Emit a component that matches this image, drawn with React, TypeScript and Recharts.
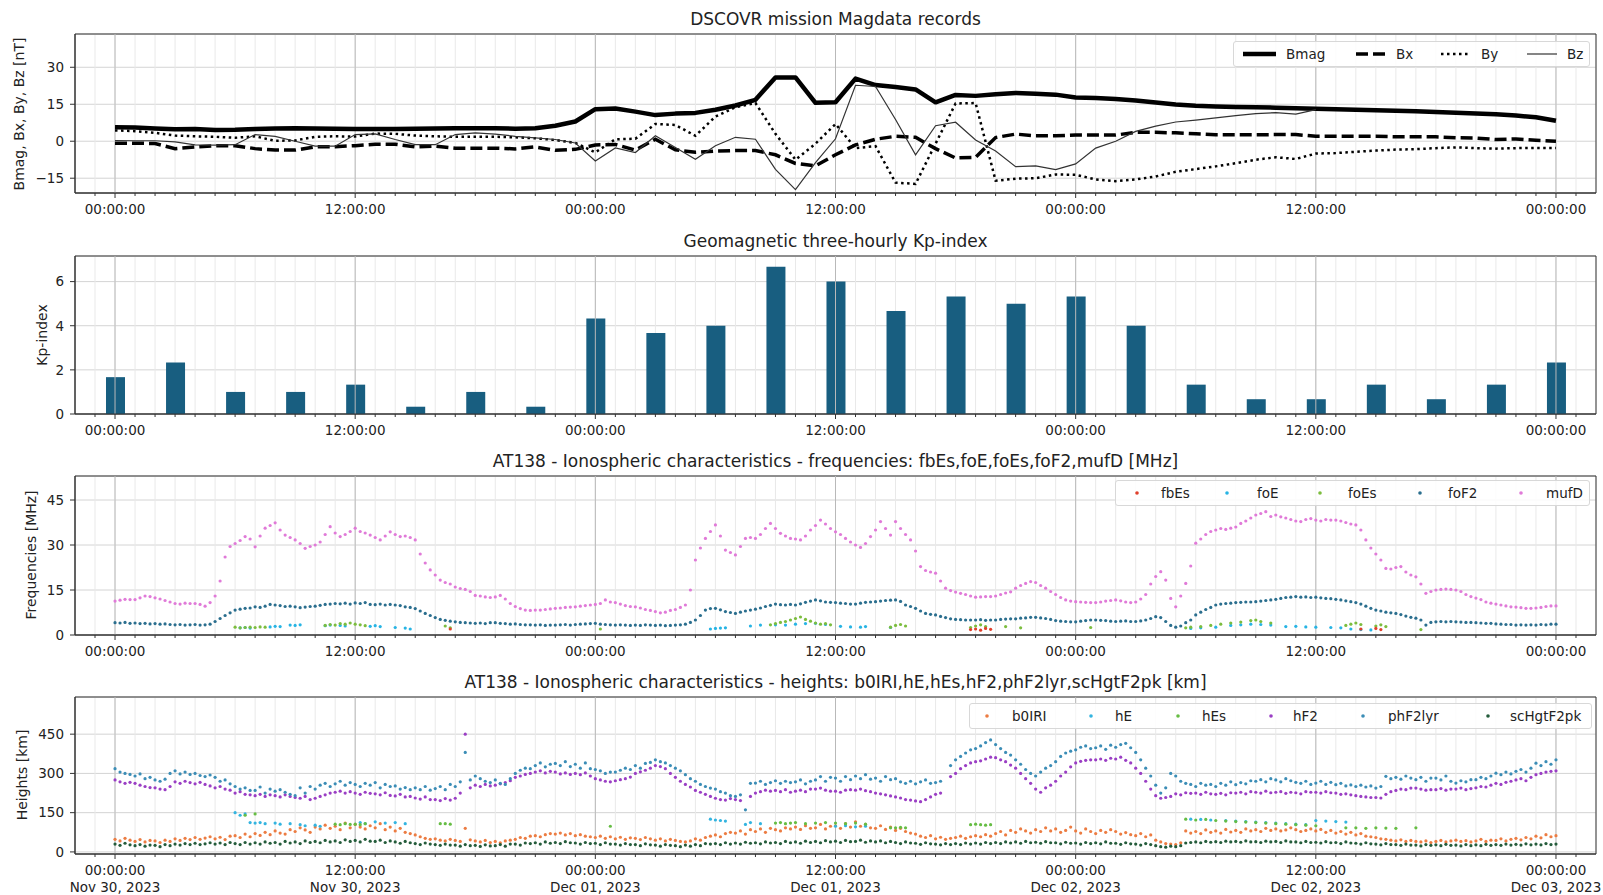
import React from "react";
import {
  LineChart, Line, ScatterChart, Scatter, ComposedChart, Bar,
  XAxis, YAxis, CartesianGrid, ReferenceLine, ReferenceArea,
} from "recharts";

const FONT = '"DejaVu Sans", Verdana, sans-serif';
const STEP = 0.25; // hours between ionosonde samples

// ---- tick labels ----
const TIME_LABELS = ["00:00:00", "12:00:00"];
const DATE_LABELS = ["Nov 30, 2023", "Nov 30, 2023", "Dec 01, 2023", "Dec 01, 2023", "Dec 02, 2023", "Dec 02, 2023", "Dec 03, 2023"];
const MAJOR_HOURS = [0, 12, 24, 36, 48, 60, 72];

// ---- DSCOVR hourly magnetometer (nT), Nov 30 00:00 .. Dec 03 00:00 ----
const BMAG = [5.7,5.6,5.2,4.9,5.0,4.6,4.7,5.0,5.2,5.3,5.2,5.1,5.0,5.0,5.0,5.1,5.2,5.3,5.3,5.3,5.1,5.3,6.3,8.0,
  13.0,13.3,12.0,10.6,11.2,11.5,12.8,14.5,16.8,25.9,25.9,15.6,15.8,25.4,22.8,22.0,21.0,15.8,18.8,18.4,19.1,19.6,19.3,18.9,
  17.7,17.5,17.1,16.5,15.7,14.9,14.4,14.1,13.9,13.8,13.6,13.4,13.2,13.0,12.8,12.6,12.4,12.2,11.9,11.6,11.3,10.9,10.4,9.7,8.3];
const BX = [-0.8,-0.8,-0.9,-3.0,-2.3,-1.8,-1.8,-3.0,-3.6,-3.6,-2.3,-2.2,-1.8,-1.2,-1.2,-2.3,-2.0,-2.8,-2.8,-2.8,-3.1,-2.3,-3.7,-3.3,
  -1.5,-1.3,-3.6,0.8,-3.5,-4.5,-4.0,-3.8,-3.8,-5.5,-9.0,-10.0,-5.5,-1.5,0.8,2.0,1.6,-3.0,-6.8,-6.5,1.5,2.9,2.2,2.2,
  2.5,2.5,2.5,3.6,3.6,3.4,3.0,2.6,2.6,2.6,2.7,2.7,2.0,2.0,2.0,2.0,1.8,1.8,1.8,1.4,1.3,0.7,0.9,0.4,0.0];
const BY = [4.4,4.1,3.4,2.3,2.0,1.8,1.4,2.0,0.2,0.3,1.8,2.0,1.9,3.1,3.0,2.3,2.0,1.8,1.8,1.8,1.6,1.2,0.5,-0.7,
  -4.5,0.8,1.0,7.0,6.6,2.2,10.0,13.8,15.5,3.0,-7.5,-1.0,7.0,-2.8,-2.0,-16.8,-17.3,-1.0,15.3,15.5,-16.0,-15.2,-15.0,-13.5,
  -13.6,-15.5,-16.2,-15.5,-14.3,-12.4,-11.3,-10.2,-8.9,-7.5,-6.5,-7.2,-5.0,-4.8,-4.3,-3.8,-3.4,-3.2,-2.8,-2.5,-2.8,-3.0,-2.8,-2.7,-2.7];
const BZ = [0.3,0.2,0.2,-0.3,-1.5,-1.6,-1.4,2.7,2.0,0.0,-2.0,-2.0,2.7,3.0,0.7,-1.4,-1.4,2.7,3.4,2.9,2.0,1.4,0.7,-0.7,
  -8.0,-2.7,-4.6,2.2,-2.5,-7.3,-1.8,1.6,0.8,-11.4,-19.6,-8.7,1.0,22.7,22.2,8.8,-5.5,6.3,7.7,0.5,-4.0,-10.3,-10.0,-11.5,
  -9.2,-2.8,0.0,4.0,6.1,7.8,8.6,9.5,10.4,11.2,11.6,11.0,12.8,null,null,null,null,null,null,null,null,null,null,null,null];

// ---- Kp index every 3 hours ----
const KP_HOURS = [0,3,6,9,12,15,18,21,24,27,30,33,36,39,42,45,48,51,54,57,60,63,66,69,72];
const KP = [1.67,2.33,1.0,1.0,1.33,0.33,1.0,0.33,4.33,3.67,4.0,6.67,6.0,4.67,5.33,5.0,5.33,4.0,1.33,0.67,0.67,1.33,0.67,1.33,2.33];

// ---- AT138 frequencies (MHz), 15-min samples from Nov 30 00:00 ----
const MUFD = [
  11.3,11.6,11.9,11.8,11.8,12.4,13.0,12.8,12.4,12.0,11.5,11.0,10.5,10.3,10.6,10.5,
  10.5,10.2,9.6,10.8,13.0,18.0,26.0,29.5,30.5,31.5,32.8,32.0,29.4,33.0,35.6,36.5,
  37.4,35.0,33.3,32.5,31.7,30.5,28.9,29.5,30.0,31.0,33.5,36.1,34.0,32.8,33.5,34.5,
  35.6,34.5,34.0,33.3,32.5,31.7,33.0,34.4,33.5,32.8,33.0,32.5,31.7,27.0,24.0,21.7,
  20.0,18.3,17.5,17.0,16.0,15.5,15.2,14.5,13.2,13.0,12.7,12.5,12.7,13.2,12.0,10.5,
  9.5,8.8,8.3,8.2,8.3,8.3,8.5,8.7,8.9,9.0,9.2,9.3,9.4,9.6,9.8,10.0,
  10.2,10.5,11.7,11.0,10.8,10.3,9.8,9.5,9.4,9.0,8.5,8.2,7.8,7.4,7.6,8.2,
  8.5,9.2,10.0,15.0,25.0,29.0,32.2,34.5,36.7,33.0,28.3,27.5,26.7,29.5,32.2,32.5,
  32.2,33.5,35.5,37.2,35.5,33.9,33.0,32.2,32.0,31.7,33.0,35.0,36.5,38.3,37.0,35.5,
  34.4,33.5,32.2,31.0,30.0,29.2,30.5,32.8,35.0,37.8,35.5,33.3,37.8,35.5,33.5,31.7,
  28.0,22.8,21.5,21.0,20.6,18.0,15.6,14.8,14.3,13.9,13.5,13.0,12.6,12.7,12.8,12.8,
  13.0,13.5,14.0,14.4,15.6,16.5,17.2,17.8,17.5,16.5,15.6,14.5,13.5,12.5,11.7,11.3,
  11.1,11.0,10.9,10.8,10.8,11.0,11.3,11.5,11.7,11.4,11.0,10.8,11.0,12.0,13.5,17.0,
  19.5,21.1,18.3,12.2,9.4,13.0,17.2,23.0,30.6,32.0,33.5,34.5,35.0,35.5,35.2,35.6,
  36.0,37.2,38.0,39.0,40.0,40.5,41.1,39.5,40.0,39.4,39.0,38.5,38.0,37.8,38.5,38.8,
  38.3,38.0,38.5,38.3,38.3,38.0,37.5,37.0,36.7,35.0,31.7,29.0,27.0,25.0,22.2,22.0,
  22.5,22.8,21.0,20.0,19.4,17.0,13.9,14.5,15.0,15.2,15.3,15.2,15.0,14.5,13.5,12.8,
  12.3,11.8,11.0,10.6,10.3,10.0,9.7,9.4,9.3,9.1,8.9,8.9,9.0,9.2,9.5,9.7,
  9.7];
const FOF2 = [
  4.1,4.0,4.2,3.9,4.0,3.8,3.9,3.7,3.8,3.6,3.7,3.5,3.4,3.5,3.3,3.4,
  3.5,3.3,3.4,3.6,4.5,5.5,6.5,7.4,8.3,8.6,8.9,9.0,9.4,9.2,9.6,10.2,
  10.0,9.8,9.5,9.6,9.4,9.1,9.3,9.5,9.6,9.9,10.2,10.3,10.5,10.4,10.6,10.3,
  10.7,10.5,10.8,10.2,10.1,10.3,10.0,10.2,10.0,9.8,9.4,9.2,8.8,8.0,7.2,6.5,
  5.8,5.2,4.9,4.6,4.4,4.2,4.1,4.0,3.9,4.0,3.8,4.1,4.1,3.9,3.8,3.6,
  3.7,3.5,3.4,3.4,3.3,3.4,3.2,3.3,3.3,3.4,3.5,3.3,3.5,3.6,3.7,3.8,
  3.9,3.6,3.5,3.4,3.3,3.4,3.3,3.2,3.3,3.2,3.4,3.3,3.2,3.3,3.1,3.2,
  3.3,3.4,3.6,4.2,5.0,6.5,8.3,8.8,8.9,8.4,7.8,7.5,7.2,7.6,8.0,8.3,
  8.6,9.0,9.5,9.9,10.3,10.1,10.0,10.2,10.0,10.4,10.9,11.3,11.7,11.4,11.0,10.9,
  10.8,10.6,10.5,10.3,10.3,10.6,10.9,11.0,11.1,11.3,11.5,11.6,11.7,11.2,10.0,9.5,
  8.9,8.0,7.2,6.9,6.7,6.2,5.8,5.4,5.2,5.1,5.0,5.0,5.0,5.1,4.9,5.0,
  5.0,5.2,5.3,5.4,5.4,5.6,5.7,5.9,5.9,5.7,5.5,5.2,4.8,4.6,4.5,4.4,
  4.4,4.6,4.8,5.0,5.0,4.9,4.8,4.6,4.5,4.6,4.7,4.5,4.5,4.7,5.0,5.5,
  6.1,5.8,4.5,3.2,2.6,3.0,4.1,5.0,6.7,7.6,8.5,9.2,10.0,10.3,10.5,10.6,
  10.8,10.9,11.0,11.0,11.1,11.3,11.5,11.7,11.9,12.2,12.5,12.6,12.8,12.6,12.7,12.5,
  12.6,12.4,12.2,12.1,11.9,11.7,11.4,11.1,10.8,10.3,9.6,8.9,8.3,8.0,7.6,7.4,
  7.2,6.8,6.3,5.9,5.6,5.0,3.3,4.2,4.4,4.5,4.4,4.5,4.4,4.3,4.2,4.2,
  4.1,4.0,3.9,3.9,3.7,3.6,3.5,3.5,3.3,3.4,3.3,3.4,3.3,3.5,3.4,3.6,
  3.6];
// sparse E-region frequencies: [hour, MHz]
const FOE = [[6.25,2.4],[6.5,2.5],[6.75,2.3],[7.75,2.7],[8.0,2.9],[8.25,2.8],[8.75,3.3],[9.0,3.2],[9.25,3.4],[10.5,3.1],[10.75,3.3],[11.25,3.2],[11.5,3.0],[12.75,2.9],[13.0,3.1],[13.25,2.8],[14.0,2.5],[14.5,2.3],[14.75,2.0],
  [29.75,2.0],[30.0,2.2],[30.25,2.3],[30.5,2.4],[31.75,3.0],[32.25,3.3],[33.0,3.4],[33.5,3.3],[34.0,3.6],[34.5,3.8],[35.0,3.9],[35.5,3.5],[36.25,2.9],[36.75,2.7],[37.25,2.6],[37.5,2.8],[38.75,2.5],
  [53.75,2.2],[54.25,2.4],[55.0,2.6],[55.75,3.2],[56.25,3.4],[56.75,3.6],[57.25,3.5],[57.75,3.3],[58.5,2.8],[59.0,2.9],[59.5,2.7],[60.0,2.6],[60.75,2.5],[61.25,2.4],[61.75,2.0],[62.25,1.8],[62.75,1.7]];
const FOES = [[6.0,2.6],[6.25,2.4],[6.5,2.5],[6.75,2.6],[7.0,2.5],[7.25,2.7],[7.5,2.6],[10.5,3.2],[10.75,3.5],[11.0,3.3],[11.25,3.8],[11.5,3.6],[11.75,4.0],[12.0,3.6],[12.25,3.4],[12.5,3.1],[16.5,3.0],[16.75,2.4],
  [24.25,2.0],[32.75,3.4],[33.0,3.8],[33.25,4.2],[33.5,4.5],[33.75,5.0],[34.0,5.5],[34.25,6.0],[34.5,5.2],[34.75,4.6],[35.0,4.0],[35.25,3.6],[35.5,3.8],[35.75,3.4],[38.75,2.6],[39.0,3.2],[39.25,3.5],[39.5,3.0],[42.75,2.5],[43.0,3.0],[43.25,3.4],[43.5,2.8],[44.5,2.8],[45.25,2.4],
  [48.75,2.5],[53.5,2.4],[53.75,2.6],[54.25,2.8],[54.75,3.2],[55.25,3.6],[55.75,4.0],[56.25,4.3],[56.75,4.8],[57.0,5.0],[57.25,4.5],[57.75,4.0],[61.5,3.2],[61.75,3.6],[62.0,4.0],[62.25,3.5],[63.0,3.0],[63.25,3.4],[63.5,2.8],[65.25,1.8]];
const FBES = [[16.75,2.0],[42.75,1.8],[43.0,2.0],[43.25,1.6],[43.5,2.2],[43.75,1.9],[62.25,2.0],[63.0,2.2],[63.25,1.8]];

// ---- AT138 heights (km), 15-min samples from Nov 30 00:00 ----
const HF2 = [
  275,268,262,266,262,255,250,246,245,240,238,250,268,262,270,265,
  260,266,258,252,245,250,240,236,225,230,220,218,215,220,212,218,
  215,210,218,212,208,205,212,200,205,212,218,225,228,232,225,230,
  225,220,228,224,222,218,226,216,214,220,210,212,206,202,210,200,
  200,196,204,198,205,225,450,245,255,250,258,252,255,260,265,272,
  285,290,296,300,305,310,302,308,305,298,302,296,300,295,302,290,
  280,275,270,268,272,276,280,286,300,306,312,320,330,326,318,300,
  285,270,258,248,235,228,220,212,205,200,198,204,200,196,null,212,
  225,230,236,232,235,230,238,228,232,236,230,240,240,244,236,232,
  232,228,236,238,236,240,234,230,225,222,218,214,210,206,200,198,
  195,192,200,210,220,225,null,288,300,318,330,340,345,348,355,362,
  360,352,345,332,320,300,280,262,240,228,245,255,270,290,305,325,
  340,346,350,352,352,355,350,358,355,362,350,340,320,300,270,240,
  215,205,208,212,222,218,226,224,225,220,228,222,220,224,218,226,
  225,228,222,230,228,225,232,226,228,230,224,228,226,222,230,228,
  228,225,230,226,225,220,222,218,215,212,210,208,208,206,220,230,
  235,240,238,244,244,240,236,238,238,242,236,240,240,244,238,242,
  245,250,248,255,262,258,266,270,275,280,272,285,295,300,305,308,
  310];
const PHF2LYR = [
  318,305,300,296,290,298,280,285,275,270,278,300,310,298,305,296,
  300,292,288,294,285,270,275,260,250,240,245,235,235,248,225,240,
  232,238,228,220,215,245,225,250,240,255,262,250,260,270,255,265,
  258,250,262,255,265,245,258,250,252,240,246,238,245,238,250,236,
  242,250,238,258,250,268,380,275,290,280,270,265,275,262,258,280,
  300,312,320,318,330,340,325,335,338,330,345,326,335,320,340,318,
  315,310,300,305,305,312,320,315,330,320,338,342,352,345,340,330,
  320,310,295,280,270,258,250,244,240,230,225,215,212,218,161,262,
  263,270,258,265,272,262,270,265,268,275,260,270,275,288,270,285,
  282,270,288,276,290,280,295,278,282,270,288,276,280,268,262,270,
  260,268,275,262,265,270,null,330,352,365,378,390,395,405,418,428,
  410,395,380,370,352,335,315,300,290,305,320,330,345,365,378,385,
  390,400,405,395,398,405,392,408,400,410,415,398,380,352,320,290,
  255,225,245,300,290,270,262,258,250,262,255,258,250,262,255,268,
  257,265,260,272,270,276,268,280,275,268,280,272,266,262,270,258,
  263,270,258,266,257,262,252,256,250,255,248,252,244,250,289,280,
  285,278,290,282,276,285,270,282,282,275,290,270,263,272,268,276,
  276,285,280,290,301,295,305,298,308,315,305,320,339,330,345,335,
  352];
const B0IRI = [
  48,42,52,45,40,47,38,44,42,36,45,40,50,44,52,47,
  55,48,53,58,50,56,47,60,62,55,68,58,70,63,75,66,
  80,72,68,85,78,92,84,75,95,88,102,90,98,85,110,92,
  105,95,88,100,92,108,85,95,80,90,75,70,65,58,52,48,
  50,45,42,48,44,40,90,46,42,38,44,36,40,35,42,45,
  48,55,52,60,62,58,66,70,68,72,65,70,62,66,60,58,
  55,60,52,58,50,56,48,54,52,47,55,50,45,50,42,48,
  44,40,38,42,50,45,55,60,65,58,70,75,72,80,68,85,
  78,88,75,90,85,80,92,88,95,86,100,90,92,105,88,98,
  100,90,108,95,115,98,105,92,90,100,86,95,82,90,78,72,
  68,60,55,62,50,56,48,52,55,60,52,58,62,58,66,60,
  70,78,65,82,75,88,80,72,85,78,92,80,88,75,82,95,
  80,72,88,78,70,82,75,85,78,68,74,66,62,70,58,65,
  45,38,32,30,28,35,80,72,78,70,84,75,80,72,86,76,
  82,75,88,80,85,78,90,82,88,80,84,92,85,78,82,88,
  80,86,75,82,72,78,68,75,65,70,60,58,55,50,48,45,
  42,46,40,44,40,38,42,36,40,44,38,42,45,40,43,38,
  42,48,40,45,44,50,42,48,52,46,55,50,60,54,66,58,
  62];
const SCHGTF2PK = [
  30,25,33,27,24,28,22,26,25,20,28,24,30,26,32,28,
  33,28,31,35,30,34,28,36,32,28,36,30,35,30,38,33,
  36,30,40,34,38,32,42,36,40,35,44,38,42,36,46,40,
  44,38,48,41,40,45,36,42,38,33,40,35,32,28,34,30,
  28,25,30,26,26,22,28,24,25,21,27,23,24,28,22,30,
  30,26,34,32,35,30,38,33,36,32,39,35,34,30,36,32,
  33,28,35,30,30,26,32,28,28,24,31,27,26,22,28,25,
  24,20,26,22,28,24,32,30,32,28,35,30,34,30,37,33,
  35,31,38,34,36,32,40,35,38,33,41,36,40,35,43,38,
  41,36,44,39,40,45,37,42,38,42,35,40,36,32,38,34,
  33,29,35,31,30,27,32,28,32,28,34,30,34,30,36,32,
  36,32,38,34,38,33,40,35,37,33,39,35,35,31,37,33,
  34,30,36,32,35,31,38,33,33,29,35,31,30,26,32,28,
  24,20,18,22,20,24,34,36,38,35,40,37,39,36,41,38,
  40,37,42,38,39,36,41,38,40,36,42,38,38,35,40,36,
  37,34,39,35,36,32,38,34,33,30,35,31,30,27,32,28,
  28,25,30,26,26,23,28,25,27,24,29,25,26,23,28,24,
  27,24,29,25,28,25,30,26,29,26,31,27,30,27,32,28,
  30];
// sparse E-region heights: [hour, km]
const HE = [[6.0,150],[6.25,140],[6.5,145],[6.75,112],[7.0,110],[7.25,112],[7.5,108],[8.0,110],[8.25,106],[8.75,108],[9.25,104],[9.5,100],[10.0,102],[10.25,98],[12.25,112],[12.5,108],[13.0,115],[13.5,110],[14.0,112],[14.5,108],
  [29.75,125],[30.0,122],[30.25,120],[30.5,118],[31.5,105],[31.75,112],[32.25,108],[36.0,98],[36.5,100],[37.0,96],[37.5,98],
  [53.75,125],[54.25,124],[54.75,122],[55.5,120],[56.0,118],[56.5,116],[57.0,114],[57.5,112],[58.0,110],[58.5,108],[59.0,106],[59.5,104],[60.0,120],[60.5,118],[61.0,116],[61.5,114]];
const HES = [[6.5,140],[7.0,145],[11.0,106],[11.25,104],[11.5,108],[11.75,105],[12.0,106],[12.25,104],[12.5,108],[16.25,108],[16.5,108],[16.75,106],
  [24.75,98],[33.0,110],[33.25,112],[33.5,108],[33.75,110],[34.0,112],[34.5,108],[35.0,110],[35.5,112],[36.0,110],[36.5,108],[37.0,110],[37.5,106],[38.75,92],[39.0,92],[39.25,94],[39.5,92],[42.75,104],[43.0,106],[43.25,104],[43.5,102],[43.75,104],
  [53.5,125],[54.0,122],[54.5,124],[55.0,120],[55.5,118],[56.0,116],[56.5,114],[57.0,112],[57.5,110],[58.0,108],[58.5,106],[59.0,104],[59.5,102],[60.0,100],[61.5,92],[62.0,92],[62.5,90],[63.0,92],[63.5,91],[64.0,90],[65.0,92]];

// ---- helpers ----
const toPoints = (vals: (number | null)[]) =>
  vals.flatMap((v, i) => (v == null ? [] : [{ t: i * STEP, v }]));
const pairPoints = (pairs: number[][]) => pairs.map(([t, v]) => ({ t, v }));

const magData = BMAG.map((b, i) => ({ t: i, bmag: b, bx: BX[i], by: BY[i], bz: BZ[i] }));
const kpData = KP_HOURS.map((t, i) => ({ t, kp: KP[i] }));

const HOUR_TICKS: number[] = [];
for (let h = -1; h <= 73; h++) HOUR_TICKS.push(h);
const X_DOMAIN: [number, number] = [-2, 74];

const C = {
  fbEs: "#e0402c", foE: "#27b4e4", foEs: "#7cbd3e", foF2: "#2a6e8e", mufD: "#e07ad8",
  b0IRI: "#ec7c42", hE: "#33b4e0", hEs: "#66bd44", hF2: "#9a3ec4", phF2lyr: "#3b8db6", scHgtF2pk: "#245c3b",
};

const TimeTick = (props: any) => {
  const { x, y, payload, withDate } = props;
  const h = payload.value;
  const major = h % 12 === 0 && h >= 0 && h <= 72;
  return (
    <g>
      <line x1={x} x2={x} y1={y} y2={y + (major ? 5 : 3)} stroke="#333" strokeWidth={1} />
      {major && (
        <text x={x} y={y + 21} textAnchor="middle" fontSize={13.5} fill="#222" fontFamily={FONT}>
          {TIME_LABELS[(h / 12) % 2]}
        </text>
      )}
      {major && withDate && (
        <text x={x} y={y + 38} textAnchor="middle" fontSize={13.5} fill="#222" fontFamily={FONT}>
          {DATE_LABELS[h / 12]}
        </text>
      )}
    </g>
  );
};

const minus = (v: number) => String(v).replace("-", "\u2212");
const dot = (color: string, r = 1.6) => (p: any) => <circle cx={p.cx} cy={p.cy} r={r} fill={color} />;

const xAxisEl = (height: number, withDate = false) => (
  <XAxis type="number" dataKey="t" domain={X_DOMAIN} allowDataOverflow ticks={HOUR_TICKS} interval={0}
    height={height} tickSize={0} tickMargin={0} tickLine={false} axisLine={{ stroke: "#333" }}
    tick={(p: any) => <TimeTick {...p} withDate={withDate} />} />
);
const yAxisEl = (domain: [number, number], ticks: number[], dataKey?: string) => (
  <YAxis type="number" dataKey={dataKey} domain={domain} allowDataOverflow ticks={ticks} interval={0} width={75}
    stroke="#333" tickSize={5} tickMargin={6} tickFormatter={minus}
    tick={{ fontSize: 13.5, fill: "#222", fontFamily: FONT }} />
);
const gridEls = () => [
  <CartesianGrid key="gh" vertical={false} stroke="#d4d4d4" />,
  <CartesianGrid key="gv" horizontal={false} stroke="#e9e9e9" />,
];
const majorLines = () => MAJOR_HOURS.map((h) => <ReferenceLine key={"m" + h} x={h} stroke="#b9b9b9" />);
const frame = (d: [number, number]) => (
  <ReferenceArea x1={X_DOMAIN[0]} x2={X_DOMAIN[1]} y1={d[0]} y2={d[1]} fill="none" fillOpacity={0} stroke="#333" strokeWidth={1} />
);

const W = 1603;
const MARGIN = { top: 10, right: 7, bottom: 0, left: 0 };

const Title = ({ top, text }: { top: number; text: string }) => (
  <div style={{ position: "absolute", left: 75, width: 1521, top: top - 25, height: 20, lineHeight: "20px",
    textAlign: "center", fontSize: 17, color: "#222" }}>{text}</div>
);
const YLabel = ({ x, y, text }: { x: number; y: number; text: string }) => (
  <div style={{ position: "absolute", left: x, top: y, transform: "translate(-50%,-50%) rotate(-90deg)",
    whiteSpace: "nowrap", fontSize: 14, color: "#222" }}>{text}</div>
);

type LegendEntry = { name: string; color: string; markX: number; textX: number; line?: { w: number; width: number; dash?: string } };
const LegendBox = ({ left, top, width, entries }: { left: number; top: number; width: number; entries: LegendEntry[] }) => (
  <div style={{ position: "absolute", left, top, width, height: 26, background: "rgba(255,255,255,0.85)",
    border: "1px solid #d8d8d8", borderRadius: 3, boxSizing: "border-box" }}>
    <svg width={width} height={26} style={{ position: "absolute", left: -1, top: -1 }}>
      {entries.map((e) =>
        e.line ? (
          <line key={e.name} x1={e.markX - left} x2={e.markX - left + e.line.w} y1={13} y2={13}
            stroke={e.color} strokeWidth={e.line.width} strokeDasharray={e.line.dash} />
        ) : (
          <circle key={e.name} cx={e.markX - left} cy={13} r={1.8} fill={e.color} />
        )
      )}
      {entries.map((e) => (
        <text key={"t" + e.name} x={e.textX - left} y={17.5} fontSize={13.5} fill="#222" fontFamily={FONT}>{e.name}</text>
      ))}
    </svg>
  </div>
);

const MAG_LEGEND: LegendEntry[] = [
  { name: "Bmag", color: "#000", markX: 1243, textX: 1286, line: { w: 33, width: 4.5 } },
  { name: "Bx", color: "#000", markX: 1356, textX: 1396, line: { w: 29, width: 3.5, dash: "12 5" } },
  { name: "By", color: "#000", markX: 1441, textX: 1481, line: { w: 27, width: 2.5, dash: "2.5 3.5" } },
  { name: "Bz", color: "#333", markX: 1527, textX: 1567, line: { w: 30, width: 1.2 } },
];
const FREQ_LEGEND: LegendEntry[] = [
  { name: "fbEs", color: C.fbEs, markX: 1137, textX: 1161 },
  { name: "foE", color: C.foE, markX: 1227, textX: 1257 },
  { name: "foEs", color: C.foEs, markX: 1320, textX: 1348 },
  { name: "foF2", color: C.foF2, markX: 1420, textX: 1448 },
  { name: "mufD", color: C.mufD, markX: 1521, textX: 1546 },
];
const HEIGHT_LEGEND: LegendEntry[] = [
  { name: "b0IRI", color: C.b0IRI, markX: 987, textX: 1012 },
  { name: "hE", color: C.hE, markX: 1091, textX: 1115 },
  { name: "hEs", color: C.hEs, markX: 1178, textX: 1202 },
  { name: "hF2", color: C.hF2, markX: 1271, textX: 1293 },
  { name: "phF2lyr", color: C.phF2lyr, markX: 1363, textX: 1388 },
  { name: "scHgtF2pk", color: C.scHgtF2pk, markX: 1488, textX: 1510 },
];

export default function App() {
  const P1: [number, number] = [-21, 43.5];
  const P2: [number, number] = [0, 7.16];
  const P3: [number, number] = [0, 53];
  const P4: [number, number] = [-8, 592];

  return (
    <div style={{ position: "absolute", left: 0, top: 0, width: W, height: 895, background: "#fff",
      overflow: "hidden", fontFamily: FONT }}>
      {/* panel 1: magnetometer */}
      <Title top={34} text="DSCOVR mission Magdata records" />
      <YLabel x={19} y={114} text="Bmag, Bx, By, Bz [nT]" />
      <div style={{ position: "absolute", left: 0, top: 24 }}>
        <LineChart width={W} height={10 + 159 + 40} data={magData} margin={MARGIN}>
          {gridEls()}
          {majorLines()}
          {xAxisEl(40)}
          {yAxisEl(P1, [-15, 0, 15, 30])}
          <Line dataKey="bmag" stroke="#000" strokeWidth={4.5} dot={false} strokeLinejoin="round" isAnimationActive={false} />
          <Line dataKey="bx" stroke="#000" strokeWidth={3.5} strokeDasharray="12 5" dot={false} isAnimationActive={false} />
          <Line dataKey="by" stroke="#000" strokeWidth={2.5} strokeDasharray="2.5 3.5" dot={false} isAnimationActive={false} />
          <Line dataKey="bz" stroke="#333" strokeWidth={1.2} dot={false} isAnimationActive={false} />
          {frame(P1)}
        </LineChart>
      </div>
      <LegendBox left={1233} top={41} width={357} entries={MAG_LEGEND} />

      {/* panel 2: Kp */}
      <Title top={256} text="Geomagnetic three-hourly Kp-index" />
      <YLabel x={42} y={335} text="Kp-index" />
      <div style={{ position: "absolute", left: 0, top: 246 }}>
        <ComposedChart width={W} height={10 + 158 + 40} data={kpData} margin={MARGIN}>
          {gridEls()}
          {majorLines()}
          {xAxisEl(40)}
          {yAxisEl(P2, [0, 2, 4, 6])}
          <Bar dataKey="kp" fill="#185e80" barSize={19} isAnimationActive={false} />
          {frame(P2)}
        </ComposedChart>
      </div>

      {/* panel 3: frequencies */}
      <Title top={476} text="AT138 - Ionospheric characteristics - frequencies: fbEs,foE,foEs,foF2,mufD [MHz]" />
      <YLabel x={31} y={555} text="Frequencies [MHz]" />
      <div style={{ position: "absolute", left: 0, top: 466 }}>
        <ScatterChart width={W} height={10 + 159 + 40} margin={MARGIN}>
          {gridEls()}
          {majorLines()}
          {xAxisEl(40)}
          {yAxisEl(P3, [0, 15, 30, 45], "v")}
          <Scatter data={toPoints(MUFD)} fill={C.mufD} shape={dot(C.mufD)} isAnimationActive={false} />
          <Scatter data={toPoints(FOF2)} fill={C.foF2} shape={dot(C.foF2)} isAnimationActive={false} />
          <Scatter data={pairPoints(FOE)} fill={C.foE} shape={dot(C.foE)} isAnimationActive={false} />
          <Scatter data={pairPoints(FOES)} fill={C.foEs} shape={dot(C.foEs)} isAnimationActive={false} />
          <Scatter data={pairPoints(FBES)} fill={C.fbEs} shape={dot(C.fbEs)} isAnimationActive={false} />
          {frame(P3)}
        </ScatterChart>
      </div>
      <LegendBox left={1115} top={480} width={475} entries={FREQ_LEGEND} />

      {/* panel 4: heights */}
      <Title top={697} text="AT138 - Ionospheric characteristics - heights: b0IRI,hE,hEs,hF2,phF2lyr,scHgtF2pk [km]" />
      <YLabel x={22} y={775} text="Heights [km]" />
      <div style={{ position: "absolute", left: 0, top: 687 }}>
        <ScatterChart width={W} height={10 + 157 + 48} margin={MARGIN}>
          {gridEls()}
          {majorLines()}
          {xAxisEl(48, true)}
          {yAxisEl(P4, [0, 150, 300, 450], "v")}
          <Scatter data={toPoints(B0IRI)} fill={C.b0IRI} shape={dot(C.b0IRI)} isAnimationActive={false} />
          <Scatter data={pairPoints(HE)} fill={C.hE} shape={dot(C.hE)} isAnimationActive={false} />
          <Scatter data={pairPoints(HES)} fill={C.hEs} shape={dot(C.hEs)} isAnimationActive={false} />
          <Scatter data={toPoints(HF2)} fill={C.hF2} shape={dot(C.hF2)} isAnimationActive={false} />
          <Scatter data={toPoints(PHF2LYR)} fill={C.phF2lyr} shape={dot(C.phF2lyr)} isAnimationActive={false} />
          <Scatter data={toPoints(SCHGTF2PK)} fill={C.scHgtF2pk} shape={dot(C.scHgtF2pk)} isAnimationActive={false} />
          {frame(P4)}
        </ScatterChart>
      </div>
      <LegendBox left={969} top={703} width={623} entries={HEIGHT_LEGEND} />
    </div>
  );
}
